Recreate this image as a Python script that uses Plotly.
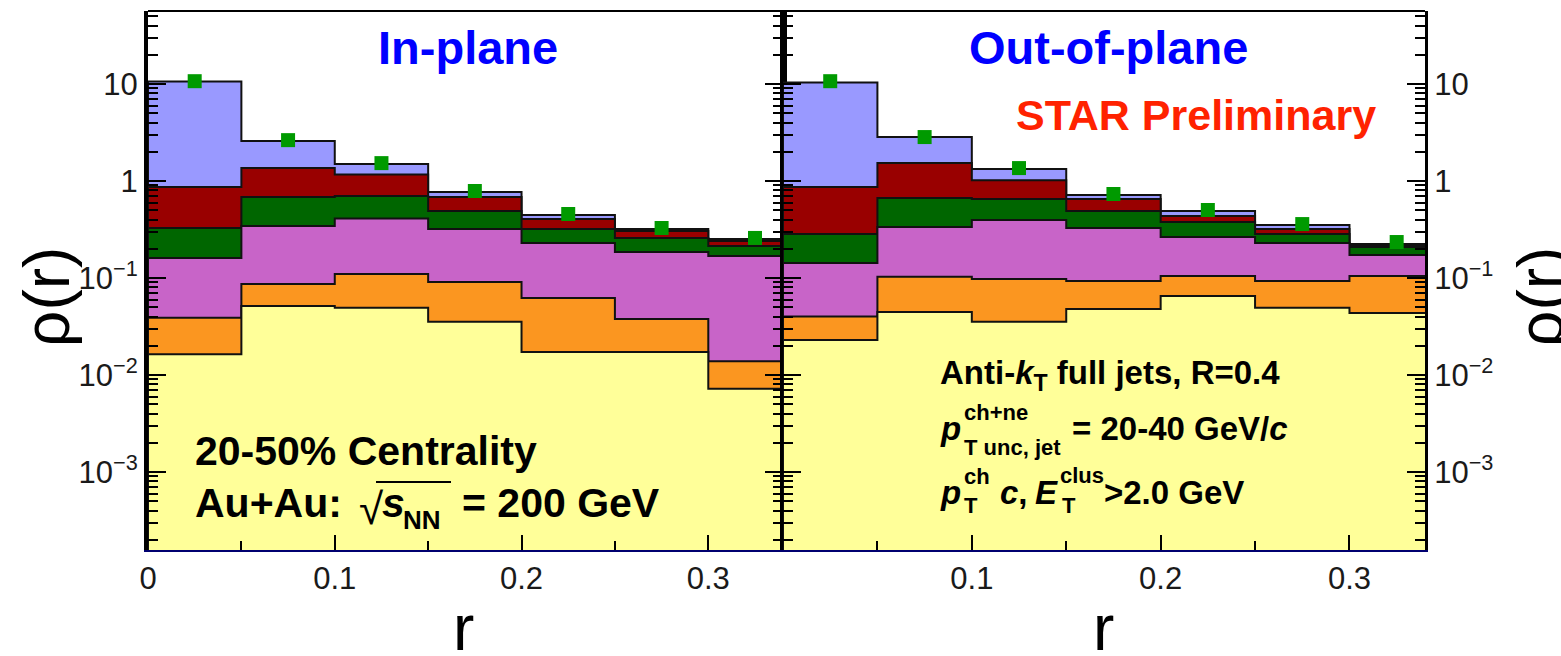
import plotly.graph_objects as go

W, H = 1561, 656
SANS = "Liberation Sans, Arial, Helvetica, sans-serif"

# Bin layout in r
bin_edges = [0.0, 0.05, 0.10, 0.15, 0.20, 0.25, 0.30, 0.35]
bin_centers = [0.025, 0.075, 0.125, 0.175, 0.225, 0.275, 0.325]

# Stacked rho(r), In-plane: cumulative level of each layer (top of stack first)
in_total   = [10.6, 2.58, 1.50, 0.770, 0.446, 0.320, 0.252]
in_red     = [0.867, 1.36, 1.17, 0.684, 0.406, 0.305, 0.241]
in_green   = [0.328, 0.684, 0.700, 0.490, 0.320, 0.259, 0.214]
in_magenta = [0.161, 0.343, 0.411, 0.320, 0.229, 0.185, 0.169]
in_orange  = [0.0389, 0.0869, 0.110, 0.0910, 0.0622, 0.0377, 0.0139]
in_yellow  = [0.0164, 0.0515, 0.0493, 0.0355, 0.0173, 0.0173, 0.0072]
in_points  = [10.7, 2.64, 1.53, 0.789, 0.457, 0.328, 0.259]

# Stacked rho(r), Out-of-plane
out_total   = [10.4, 2.84, 1.33, 0.717, 0.490, 0.352, 0.224]
out_red     = [0.867, 1.53, 1.02, 0.652, 0.437, 0.320, 0.219]
out_green   = [0.284, 0.668, 0.652, 0.490, 0.378, 0.284, 0.209]
out_magenta = [0.143, 0.335, 0.397, 0.328, 0.265, 0.229, 0.173]
out_orange  = [0.0401, 0.103, 0.0977, 0.0932, 0.105, 0.0932, 0.105]
out_yellow  = [0.0229, 0.0447, 0.0354, 0.0478, 0.0651, 0.0493, 0.0436]
out_points  = [10.7, 2.84, 1.36, 0.735, 0.503, 0.360, 0.235]

layer_colors = ["#9999ff", "#990000", "#006600", "#c864c8", "#fb9620", "#ffff99"]

y_tickvals = [1e-3, 1e-2, 1e-1, 1, 10]
y_ticktext = ["10<sup>\u22123</sup>", "10<sup>\u22122</sup>", "10<sup>\u22121</sup>", "1", "10"]
y_minor = [m * 10.0 ** e for e in range(-4, 2) for m in range(2, 10)]


def step_outline(levels, floor=1e-6):
    """Closed histogram outline of one stacked layer, filled down to the floor."""
    xs, ys = [bin_edges[0]], [floor]
    for i, v in enumerate(levels):
        xs += [bin_edges[i], bin_edges[i + 1]]
        ys += [v, v]
    xs += [bin_edges[-1], bin_edges[0]]
    ys += [floor, floor]
    return xs, ys


fig = go.Figure()

panels = [
    ("x", "y", [in_total, in_red, in_green, in_magenta, in_orange, in_yellow], in_points),
    ("x2", "y2", [out_total, out_red, out_green, out_magenta, out_orange, out_yellow], out_points),
]
for xa, ya, layers, points in panels:
    for levels, color in zip(layers, layer_colors):
        xs, ys = step_outline(levels)
        fig.add_trace(go.Scatter(
            x=xs, y=ys, xaxis=xa, yaxis=ya, mode="lines", fill="toself",
            fillcolor=color, line=dict(color="#111111", width=2),
            hoverinfo="skip", showlegend=False))
    fig.add_trace(go.Scatter(
        x=bin_centers, y=points, xaxis=xa, yaxis=ya, mode="markers",
        marker=dict(symbol="square", size=14, color="#009a00"),
        showlegend=False, cliponaxis=False))

x_dom_left = [148 / W, 783 / W]
x_dom_right = [783 / W, 1425 / W]
y_dom = [1 - 550 / H, 1 - 11 / H]

tickfont = dict(family=SANS, size=31, color="#1a1a1a")


def x_axis(domain, anchor, vals):
    return dict(
        domain=domain, anchor=anchor, range=[0, 0.34], showgrid=False, zeroline=False,
        showline=True, linecolor="#000070", linewidth=2, mirror=False,
        ticks="inside", ticklen=15, tickwidth=2, tickcolor="black",
        tickvals=vals, ticktext=[("%g" % v) for v in vals], tickfont=tickfont,
        minor=dict(ticks="inside", ticklen=9, tickwidth=2, tickcolor="black",
                   tickvals=[0.05, 0.15, 0.25], showgrid=False),
        automargin=False)


def y_axis(anchor, side, lw):
    return dict(
        domain=y_dom, anchor=anchor, side=side, type="log", range=[-3.804, 1.753],
        showgrid=False, zeroline=False, showline=True, linecolor="black", linewidth=lw,
        mirror="ticks", ticks="inside", ticklen=18, tickwidth=2, tickcolor="black",
        tickvals=y_tickvals, ticktext=y_ticktext, tickfont=tickfont,
        minor=dict(ticks="inside", ticklen=10, tickwidth=1.5, tickcolor="black",
                   tickvals=y_minor, showgrid=False),
        automargin=False)


fig.update_layout(
    width=W, height=H, margin=dict(l=0, r=0, t=0, b=0),
    paper_bgcolor="white", plot_bgcolor="white",
    xaxis=x_axis(x_dom_left, "y", [0, 0.1, 0.2, 0.3]),
    xaxis2=x_axis(x_dom_right, "y2", [0.1, 0.2, 0.3]),
    yaxis=y_axis("x", "left", 4),
    yaxis2=y_axis("x2", "right", 3),
)

# top frame edges of both pads
for xr, yr in [("x domain", "y domain"), ("x2 domain", "y2 domain")]:
    fig.add_shape(type="line", xref=xr, yref=yr, x0=0, x1=1, y0=1, y1=1,
                  line=dict(color="black", width=2), layer="above")


def text(x, y, s, size, color="black", bold=True, xanchor="left", angle=0, family=SANS):
    fig.add_annotation(
        x=x / W, y=1 - y / H, xref="paper", yref="paper", text=s, showarrow=False,
        xanchor=xanchor, yanchor="middle", textangle=angle,
        font=dict(family=family, size=size, color=color, weight="bold" if bold else "normal"))


# pad titles
text(468, 47, "In-plane", 47, color="#0000ff", xanchor="center")
text(1108, 47, "Out-of-plane", 47, color="#0000ff", xanchor="center")
text(1196, 115, "STAR Preliminary", 43, color="#ff2200", xanchor="center")

# collision system
text(193, 451, "20-50% Centrality", 41)
text(193, 503, "Au+Au:", 41)
text(357, 508, "\u221a", 44, bold=False)
text(380, 503, "<i>s</i>", 41)
text(401, 520, "NN", 26)
text(460, 503, "= 200 GeV", 41)
fig.add_shape(type="line", xref="paper", yref="paper",
              x0=376 / W, x1=451 / W, y0=1 - 482 / H, y1=1 - 482 / H,
              line=dict(color="black", width=2))

# jet selection
text(938, 375, "Anti-<i>k</i><sub>T</sub> full jets, R=0.4", 33)
text(938, 428, "<i>p</i>", 33)
text(962, 413, "ch+ne", 22)
text(962, 447, "T unc, jet", 22)
text(1070, 428, "= 20-40 GeV/<i>c</i>", 33)
text(938, 492, "<i>p</i>", 33)
text(962, 476, "ch", 22)
text(962, 505, "T", 22)
text(998, 492, "<i>c</i>,", 33)
text(1033, 492, "<i>E</i>", 33)
text(1058, 475, "clus", 22)
text(1060, 505, "T", 22)
text(1102, 492, "&gt;2.0 GeV", 33)

# axis titles
text(47, 297, "\u03c1(r)", 64, bold=False, xanchor="center", angle=-90)
text(1541, 297, "\u03c1(r)", 64, bold=False, xanchor="center", angle=-90)
text(463, 628, "r", 64, bold=False, xanchor="center")
text(1103, 628, "r", 64, bold=False, xanchor="center")

fig.write_html("out.html")
